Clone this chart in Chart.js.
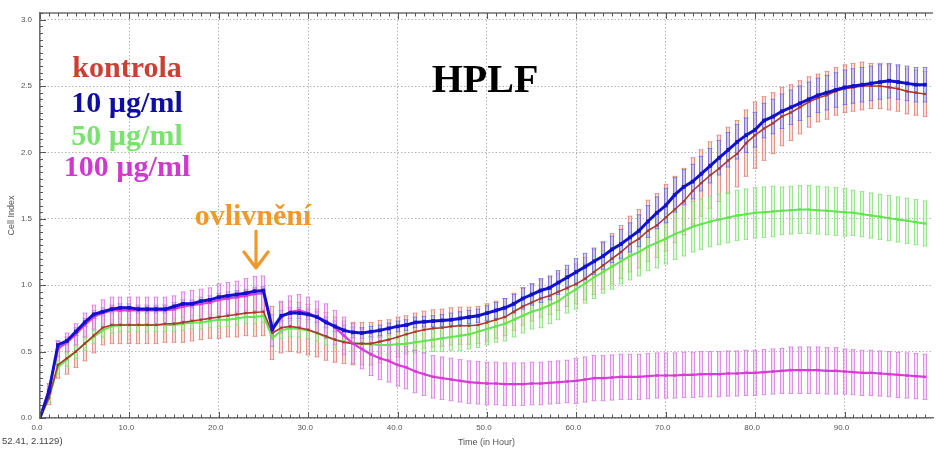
<!DOCTYPE html>
<html>
<head>
<meta charset="utf-8">
<script src="https://cdn.jsdelivr.net/npm/chart.js@4.4.1/dist/chart.umd.min.js"></script>
<style>
  html, body { margin:0; padding:0; background:#fff; }
  #wrap { position:relative; width:937px; height:450px; overflow:hidden; }
  #wrap canvas { position:absolute; left:0; top:0; }
  .lbl { position:absolute; font-family:"Liberation Serif","Times New Roman",serif; font-weight:bold; white-space:nowrap; }
  .leg { left:27px; width:200px; text-align:center; font-size:30px; line-height:30px; }
  #coord { position:absolute; left:2px; top:435px; font-family:"Liberation Sans",Arial,sans-serif; font-size:9.5px; color:#444; }
</style>
</head>
<body>
<div id="wrap">
  <canvas id="c" width="937" height="450"></canvas>
  <div class="lbl leg" style="top:52px;color:rgb(205,62,52)">kontrola</div>
  <div class="lbl leg" style="top:87px;color:rgb(14,14,165)">10 µg/ml</div>
  <div class="lbl leg" style="top:120px;color:rgb(122,226,110)">50 µg/ml</div>
  <div class="lbl leg" style="top:151px;color:rgb(206,58,206)">100 µg/ml</div>
  <div class="lbl" style="left:385px;width:200px;text-align:center;top:59px;font-size:40px;line-height:40px;color:#000">HPLF</div>
  <div class="lbl" style="left:153px;width:200px;text-align:center;top:200px;font-size:30px;line-height:30px;color:rgb(240,152,42)">ovlivnění</div>
  <svg style="position:absolute;left:0;top:0" width="937" height="450">
    <path d="M256 231 L256 268 M244 252 L256 268 L268 252" stroke="rgb(240,152,42)" stroke-width="3.2" fill="none" stroke-linecap="round" stroke-linejoin="round"/>
  </svg>
  <div id="coord">52.41, 2.1129)</div>
</div>
<script>
// ---- data ----
const hours = [0,1,2,3,4,5,6,7,8,9,10,11,12,13,14,15,16,17,18,19,20,21,22,23,24,25,26,27,28,29,30,31,32,33,34,35,36,37,38,39,40,41,42,43,44,45,46,47,48,49,50,51,52,53,54,55,56,57,58,59,60,61,62,63,64,65,66,67,68,69,70,71,72,73,74,75,76,77,78,79,80,81,82,83,84,85,86,87,88,89,90,91,92,93,94,95,96,97,98,99];

const seriesNames = ['kontrola','10 µg/ml','50 µg/ml','100 µg/ml'];

const kontrola = [0.00,0.15,0.40,0.45,0.50,0.56,0.62,0.68,0.70,0.70,
 0.70,0.70,0.70,0.70,0.71,0.71,0.72,0.73,0.74,0.75,
 0.76,0.77,0.78,0.79,0.795,0.80,0.64,0.68,0.69,0.68,
 0.665,0.64,0.615,0.59,0.57,0.56,0.56,0.56,0.575,0.59,
 0.61,0.63,0.65,0.665,0.675,0.68,0.69,0.695,0.695,0.70,
 0.72,0.74,0.76,0.80,0.84,0.87,0.90,0.92,0.95,0.98,
 1.01,1.05,1.10,1.15,1.20,1.25,1.31,1.35,1.41,1.45,
 1.51,1.57,1.63,1.71,1.77,1.83,1.88,1.94,1.99,2.07,
 2.13,2.18,2.22,2.27,2.30,2.34,2.38,2.41,2.43,2.46,
 2.48,2.49,2.50,2.50,2.50,2.49,2.48,2.46,2.45,2.44];
const kontrolaSD = [0,0.05,0.10,0.12,0.12,0.13,0.13,0.13,0.14,0.14,
 0.14,0.14,0.14,0.14,0.14,0.14,0.15,0.15,0.15,0.15,
 0.16,0.16,0.17,0.17,0.18,0.18,0.20,0.19,0.19,0.19,
 0.19,0.18,0.18,0.17,0.16,0.16,0.16,0.16,0.16,0.15,
 0.15,0.14,0.14,0.14,0.14,0.14,0.14,0.14,0.14,0.14,
 0.14,0.14,0.14,0.14,0.14,0.14,0.14,0.14,0.14,0.14,
 0.15,0.16,0.17,0.18,0.19,0.20,0.21,0.22,0.23,0.24,
 0.25,0.25,0.25,0.25,0.25,0.25,0.25,0.25,0.25,0.25,
 0.25,0.24,0.23,0.22,0.21,0.20,0.19,0.18,0.18,0.18,
 0.18,0.18,0.18,0.17,0.17,0.17,0.17,0.17,0.17,0.17];

const c10 = [0.00,0.20,0.55,0.58,0.65,0.72,0.78,0.80,0.82,0.83,
 0.83,0.82,0.82,0.82,0.82,0.84,0.86,0.86,0.88,0.89,
 0.91,0.92,0.93,0.94,0.955,0.96,0.67,0.77,0.79,0.79,
 0.78,0.76,0.72,0.69,0.66,0.645,0.64,0.65,0.66,0.675,
 0.69,0.70,0.72,0.725,0.73,0.735,0.74,0.75,0.76,0.77,
 0.79,0.81,0.83,0.86,0.90,0.93,0.96,0.98,1.02,1.06,
 1.10,1.14,1.18,1.22,1.27,1.31,1.36,1.41,1.48,1.545,
 1.60,1.68,1.74,1.78,1.84,1.90,1.96,2.02,2.08,2.13,
 2.17,2.24,2.27,2.31,2.34,2.37,2.40,2.43,2.45,2.47,
 2.49,2.50,2.51,2.52,2.53,2.54,2.53,2.52,2.51,2.51];
const c10SD = [0,0.02,0.03,0.03,0.03,0.03,0.03,0.03,0.03,0.03,
 0.03,0.03,0.03,0.03,0.03,0.03,0.03,0.03,0.03,0.03,
 0.03,0.03,0.03,0.03,0.03,0.03,0.05,0.04,0.04,0.04,
 0.04,0.04,0.04,0.04,0.04,0.04,0.04,0.04,0.04,0.04,
 0.04,0.04,0.04,0.04,0.04,0.045,0.05,0.05,0.05,0.05,
 0.055,0.06,0.07,0.07,0.08,0.08,0.09,0.09,0.09,0.09,
 0.10,0.10,0.10,0.10,0.10,0.11,0.11,0.12,0.12,0.12,
 0.13,0.13,0.13,0.13,0.13,0.13,0.13,0.13,0.13,0.13,
 0.13,0.13,0.13,0.13,0.13,0.13,0.13,0.13,0.13,0.13,
 0.13,0.13,0.13,0.13,0.13,0.13,0.13,0.13,0.13,0.13];

const c50 = [0.00,0.15,0.38,0.44,0.50,0.56,0.61,0.66,0.69,0.70,
 0.70,0.70,0.70,0.70,0.70,0.70,0.71,0.72,0.72,0.73,
 0.74,0.74,0.75,0.76,0.76,0.77,0.60,0.66,0.675,0.67,
 0.66,0.64,0.61,0.59,0.575,0.565,0.56,0.555,0.55,0.55,
 0.555,0.56,0.57,0.58,0.59,0.60,0.61,0.62,0.63,0.65,
 0.67,0.69,0.71,0.74,0.77,0.80,0.82,0.85,0.88,0.93,
 0.97,1.015,1.06,1.10,1.14,1.18,1.22,1.25,1.29,1.32,
 1.35,1.385,1.41,1.44,1.46,1.48,1.495,1.51,1.525,1.535,
 1.545,1.55,1.555,1.56,1.565,1.57,1.57,1.565,1.56,1.555,
 1.55,1.545,1.535,1.525,1.515,1.505,1.495,1.485,1.475,1.465];
const c50SD = [0,0.03,0.05,0.05,0.05,0.05,0.05,0.05,0.05,0.05,
 0.05,0.05,0.05,0.05,0.05,0.05,0.05,0.05,0.05,0.05,
 0.05,0.05,0.05,0.05,0.05,0.05,0.06,0.06,0.06,0.06,
 0.06,0.06,0.06,0.06,0.06,0.06,0.06,0.06,0.06,0.07,
 0.07,0.08,0.08,0.09,0.09,0.10,0.10,0.11,0.11,0.12,
 0.12,0.12,0.13,0.13,0.13,0.13,0.14,0.14,0.14,0.14,
 0.15,0.15,0.16,0.16,0.17,0.17,0.18,0.18,0.18,0.19,
 0.19,0.19,0.19,0.19,0.19,0.19,0.19,0.19,0.19,0.19,
 0.19,0.19,0.19,0.18,0.18,0.18,0.18,0.18,0.18,0.18,
 0.18,0.17,0.17,0.17,0.17,0.17,0.17,0.17,0.17,0.17];

const c100 = [0.00,0.22,0.52,0.57,0.63,0.70,0.76,0.79,0.81,0.81,
 0.81,0.81,0.81,0.81,0.81,0.82,0.84,0.85,0.86,0.87,
 0.89,0.90,0.91,0.92,0.935,0.94,0.66,0.76,0.80,0.81,
 0.79,0.76,0.73,0.68,0.62,0.56,0.52,0.48,0.45,0.43,
 0.40,0.38,0.35,0.33,0.31,0.30,0.29,0.28,0.27,0.265,
 0.26,0.26,0.255,0.255,0.255,0.26,0.26,0.265,0.27,0.275,
 0.28,0.29,0.30,0.30,0.305,0.31,0.31,0.31,0.315,0.32,
 0.32,0.32,0.325,0.325,0.33,0.33,0.33,0.335,0.335,0.34,
 0.34,0.345,0.35,0.355,0.36,0.36,0.36,0.36,0.355,0.355,
 0.35,0.345,0.34,0.34,0.335,0.33,0.325,0.32,0.315,0.31];
const c100SD = [0,0.04,0.06,0.07,0.08,0.09,0.09,0.10,0.10,0.10,
 0.10,0.10,0.10,0.10,0.10,0.10,0.11,0.11,0.11,0.11,
 0.12,0.12,0.12,0.13,0.13,0.13,0.12,0.12,0.12,0.12,
 0.12,0.12,0.13,0.13,0.14,0.15,0.15,0.16,0.16,0.16,
 0.16,0.16,0.16,0.16,0.16,0.16,0.16,0.16,0.16,0.16,
 0.16,0.16,0.16,0.16,0.16,0.16,0.16,0.16,0.16,0.16,
 0.17,0.17,0.17,0.17,0.17,0.17,0.17,0.17,0.17,0.17,
 0.17,0.17,0.17,0.17,0.17,0.17,0.17,0.17,0.17,0.17,
 0.17,0.17,0.17,0.17,0.175,0.175,0.175,0.175,0.175,0.175,
 0.17,0.17,0.17,0.17,0.17,0.17,0.17,0.17,0.17,0.17];

const xTickValues = [0,10,20,30,40,50,60,70,80,90];
const xTickLabels = ['0.0','10.0','20.0','30.0','40.0','50.0','60.0','70.0','80.0','90.0'];
const yTickValues = [0,0.5,1,1.5,2,2.5,3];
const yTickLabels = ['0.0','0.5','1.0','1.5','2.0','2.5','3.0'];
const xTitle = 'Time (in Hour)';
const yTitle = 'Cell Index';

// ---- chart ----
const pts = arr => hours.map((h, i) => ({x: h, y: arr[i]}));

const errorBars = {
  id: 'errorBars',
  beforeDatasetsDraw(chart) {
    const {ctx, chartArea: a, scales: {x, y}} = chart;
    ctx.save();
    ctx.beginPath(); ctx.rect(a.left, a.top, a.right - a.left, a.bottom - a.top); ctx.clip();
    chart.data.datasets.slice().sort((p, q) => p.barOrder - q.barOrder).forEach(ds => {
      ds.data.forEach((p, i) => {
        const sd = ds.errors[i];
        if (!sd) return;
        const px = Math.round(x.getPixelForValue(p.x));
        const yt = y.getPixelForValue(p.y + sd), yb = y.getPixelForValue(p.y - sd);
        ctx.fillStyle = ds.errorFill;
        ctx.fillRect(px - 2, yt, 4, yb - yt);
        ctx.strokeStyle = ds.errorColor;
        ctx.lineWidth = 1;
        ctx.beginPath();
        ctx.moveTo(px - 1.5, yt); ctx.lineTo(px - 1.5, yb);
        ctx.moveTo(px + 1.5, yt); ctx.lineTo(px + 1.5, yb);
        ctx.moveTo(px - 2.5, yt); ctx.lineTo(px + 2.5, yt);
        ctx.moveTo(px - 2.5, yb); ctx.lineTo(px + 2.5, yb);
        ctx.stroke();
      });
    });
    ctx.restore();
  }
};

const frameTicks = {
  id: 'frameTicks',
  afterDraw(chart) {
    const {ctx, chartArea: a, scales: {x, y}} = chart;
    ctx.save();
    ctx.strokeStyle = '#6e6e6e';
    ctx.lineWidth = 1.5;
    ctx.beginPath(); ctx.moveTo(a.left, a.top); ctx.lineTo(a.right, a.top); ctx.stroke();
    ctx.lineWidth = 1;
    ctx.strokeStyle = '#555';
    ctx.beginPath();
    for (let h = 0; h <= 99; h++) {
      const px = Math.round(x.getPixelForValue(h)) + 0.5;
      const len = (h % 10 === 0) ? 6 : 3.5;
      ctx.moveTo(px, a.bottom); ctx.lineTo(px, a.bottom - len);
      ctx.moveTo(px, a.top); ctx.lineTo(px, a.top + len);
    }
    for (let k = 0; k <= 61; k++) {
      const v = k * 0.05;
      const py = Math.round(y.getPixelForValue(v)) + 0.5;
      const len = (k % 10 === 0) ? 6 : 3;
      ctx.moveTo(a.left, py); ctx.lineTo(a.left + len, py);
    }
    ctx.stroke();
    ctx.restore();
  }
};

Chart.defaults.font.family = '"Liberation Sans", Arial, sans-serif';

new Chart(document.getElementById('c'), {
  type: 'line',
  data: {
    datasets: [
      { label: seriesNames[0], data: pts(kontrola), errors: kontrolaSD, errorColor: 'rgba(220,120,110,0.7)', errorFill: 'rgba(238,170,160,0.4)', barOrder: 0,
        borderColor: 'rgb(175,55,45)', backgroundColor: 'rgb(175,55,45)', borderWidth: 1.6, pointRadius: 1.3, pointBorderWidth: 0, order: 2 },
      { label: seriesNames[1], data: pts(c10), errors: c10SD, errorColor: 'rgba(95,95,215,0.65)', errorFill: 'rgba(170,170,238,0.5)', barOrder: 2,
        borderColor: 'rgb(18,18,205)', backgroundColor: 'rgb(18,18,205)', borderWidth: 3, pointStyle: 'rect', pointRadius: 2.6, pointBorderWidth: 0, order: 0 },
      { label: seriesNames[2], data: pts(c50), errors: c50SD, errorColor: 'rgba(125,222,110,0.7)', errorFill: 'rgba(185,240,175,0.45)', barOrder: 1,
        borderColor: 'rgb(100,228,80)', backgroundColor: 'rgb(100,228,80)', borderWidth: 2, pointRadius: 1.3, pointBorderWidth: 0, order: 3 },
      { label: seriesNames[3], data: pts(c100), errors: c100SD, errorColor: 'rgba(210,110,222,0.68)', errorFill: 'rgba(236,178,240,0.45)', barOrder: 3,
        borderColor: 'rgb(215,60,215)', backgroundColor: 'rgb(215,60,215)', borderWidth: 2.2, pointRadius: 1.4, pointBorderWidth: 0, order: 1 }
    ]
  },
  options: {
    responsive: false,
    animation: false,
    layout: { padding: { top: 13, right: 0, left: 0, bottom: 0 } },
    plugins: { legend: { display: false }, tooltip: { enabled: false } },
    elements: { line: { tension: 0 } },
    scales: {
      x: {
        type: 'linear', min: 0, max: 99.9,
        afterBuildTicks: s => { s.ticks = xTickValues.map(v => ({value: v})); },
        afterFit: s => { s.height = 32; },
        ticks: { includeBounds: false, padding: 5, labelOffset: -3, color: '#555', font: { size: 8 },
                 callback: (v, i) => xTickLabels[i], maxRotation: 0, autoSkip: false },
        grid: { color: '#b5b5b5', lineWidth: 1, drawTicks: false },
        border: { display: true, color: '#6e6e6e', width: 1.5, dash: [1.5, 2] },
        title: { display: true, text: xTitle, color: '#555', font: { size: 9 }, padding: { top: 0, bottom: 2 } }
      },
      y: {
        type: 'linear', min: 0, max: 3.05,
        afterBuildTicks: s => { s.ticks = yTickValues.map(v => ({value: v})); },
        afterFit: s => { s.width = 40; },
        ticks: { includeBounds: false, padding: 8, color: '#555', font: { size: 8 },
                 callback: (v, i) => yTickLabels[i], autoSkip: false },
        grid: { color: '#b5b5b5', lineWidth: 1, drawTicks: false },
        border: { display: true, color: '#6e6e6e', width: 1.5, dash: [1.5, 2] },
        title: { display: true, text: yTitle, color: '#555', font: { size: 9 }, padding: { top: 6, bottom: 0 } }
      }
    }
  },
  plugins: [errorBars, frameTicks]
});
</script>
</body>
</html>
